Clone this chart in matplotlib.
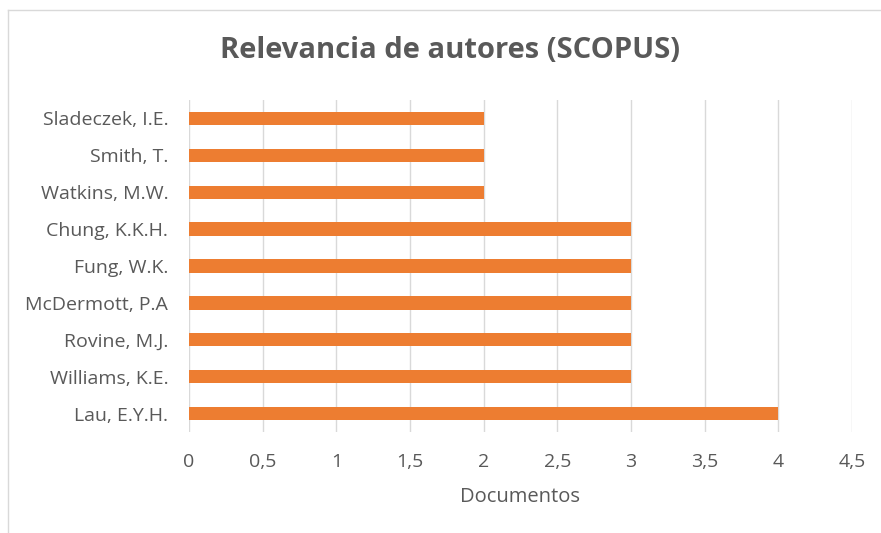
import matplotlib.pyplot as plt
from matplotlib.lines import Line2D

# ================================ DATA ================================
authors = ['Lau, E.Y.H.', 'Williams, K.E.', 'Rovine, M.J.', 'McDermott, P.A',
           'Fung, W.K.', 'Chung, K.K.H.', 'Watkins, M.W.', 'Smith, T.', 'Sladeczek, I.E.']
documents = [4, 3, 3, 3, 3, 3, 2, 2, 2]
x_ticks = [0, 0.5, 1, 1.5, 2, 2.5, 3, 3.5, 4, 4.5]
x_tick_labels = ['0', '0,5', '1', '1,5', '2', '2,5', '3', '3,5', '4', '4,5']

BAR_COLOR = '#ED7D31'
TEXT_COLOR = '#595959'
GRID_COLOR = '#D9D9D9'

plt.rcParams['font.family'] = ['Open Sans', 'DejaVu Sans']

fig = plt.figure(figsize=(8.81, 5.33), dpi=100)
ax = fig.add_axes([189 / 881, 1 - 432 / 533, (852 - 189) / 881, (432 - 100) / 533])

ax.barh(range(len(authors)), documents, height=0.36, color=BAR_COLOR, zorder=3)

ax.set_xlim(0, 4.5)
ax.set_ylim(-0.5, len(authors) - 0.5)
ax.set_xticks(x_ticks)
ax.set_xticklabels(x_tick_labels)
ax.set_yticks(range(len(authors)))
ax.set_yticklabels(authors)
ax.tick_params(axis='both', length=0, colors=TEXT_COLOR, labelsize=14)
ax.tick_params(axis='x', pad=15)
ax.tick_params(axis='y', pad=15)
for spine in ax.spines.values():
    spine.set_visible(False)
ax.grid(axis='x', color=GRID_COLOR, linewidth=1, zorder=0)

ax.set_xlabel('Documentos', fontsize=14.5, color=TEXT_COLOR, labelpad=12)
fig.text(450 / 881, 1 - 51 / 533, 'Relevancia de autores (SCOPUS)', ha='center', va='center',
         fontsize=21, fontweight='bold', color=TEXT_COLOR)

# chart frame (cropped: only top and left edges visible)
fig.add_artist(Line2D([8 / 881, 1], [1 - 10 / 533] * 2, color=GRID_COLOR, linewidth=1))
fig.add_artist(Line2D([8 / 881] * 2, [0, 1 - 10 / 533], color=GRID_COLOR, linewidth=1))

fig.savefig('out.png', dpi=100, facecolor='white')
